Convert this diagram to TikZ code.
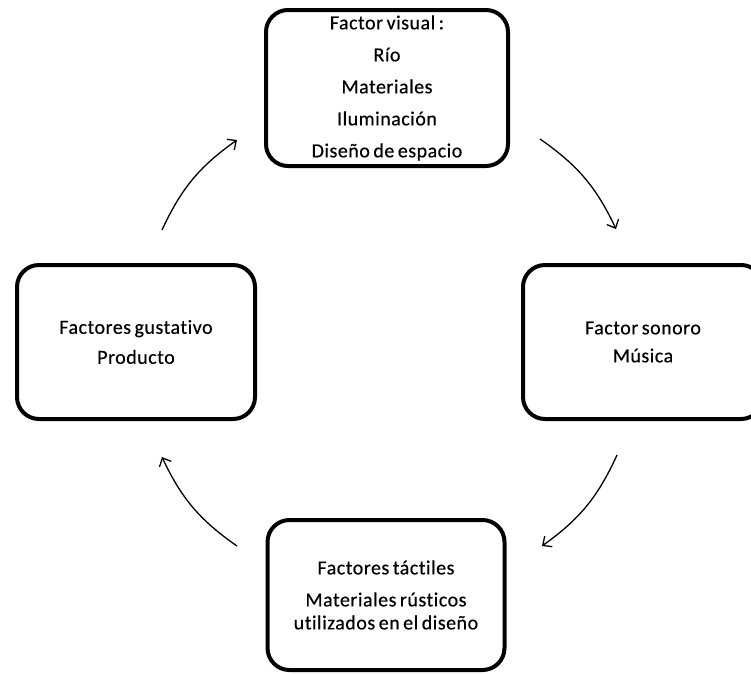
\documentclass[tikz,border=0pt]{standalone}
\usepackage{fontspec}
\setmainfont{Carlito}[LetterSpace=2.5, WordSpace=0.7, FakeBold=0.4, Ligatures=NoCommon]
\usetikzlibrary{arrows.meta}
\begin{document}
\begin{tikzpicture}[x=1pt,y=-1pt,
  box/.style={draw=black, line width=4pt, rounded corners=22pt, align=center,
    font=\fontsize{20pt}{23pt}\selectfont, inner sep=0pt},
  flow/.style={line width=1.3pt, -{Straight Barb[length=7pt,width=13pt,line width=1.3pt]}}]
\useasboundingbox (0,0) rectangle (751,673);
\node[box, minimum width=242pt, minimum height=156pt] (vis) at (387,88)
  {Factor visual :\\[9pt]Río\\[9pt]Materiales\\[9pt]Iluminación\\[9pt]Diseño de espacio};
\node[box, minimum width=238pt, minimum height=154pt] (gus) at (136,342)
  {Factores gustativo\\[7pt]Producto};
\node[box, minimum width=240pt, minimum height=154pt] (son) at (643,342)
  {Factor sonoro\\[5pt]Música};
\node[box, minimum width=237pt, minimum height=150pt] (tac) at (386,595)
  {Factores táctiles\\[9pt]Materiales rústicos\\utilizados en el diseño};
\coordinate (a1s) at (162,230);
\coordinate (a1e) at (237,140);
\coordinate (a2s) at (540,139);
\coordinate (a2e) at (616,229);
\coordinate (a3s) at (617,455);
\coordinate (a3e) at (542,546);
\coordinate (a4s) at (237,546);
\coordinate (a4e) at (162,457);
\draw[flow] (a1s) to[bend left=15] (a1e);
\draw[flow] (a2s) to[bend left=15] (a2e);
\draw[flow] (a3s) to[bend left=15] (a3e);
\draw[flow] (a4s) to[bend left=15] (a4e);
\end{tikzpicture}
\end{document}
